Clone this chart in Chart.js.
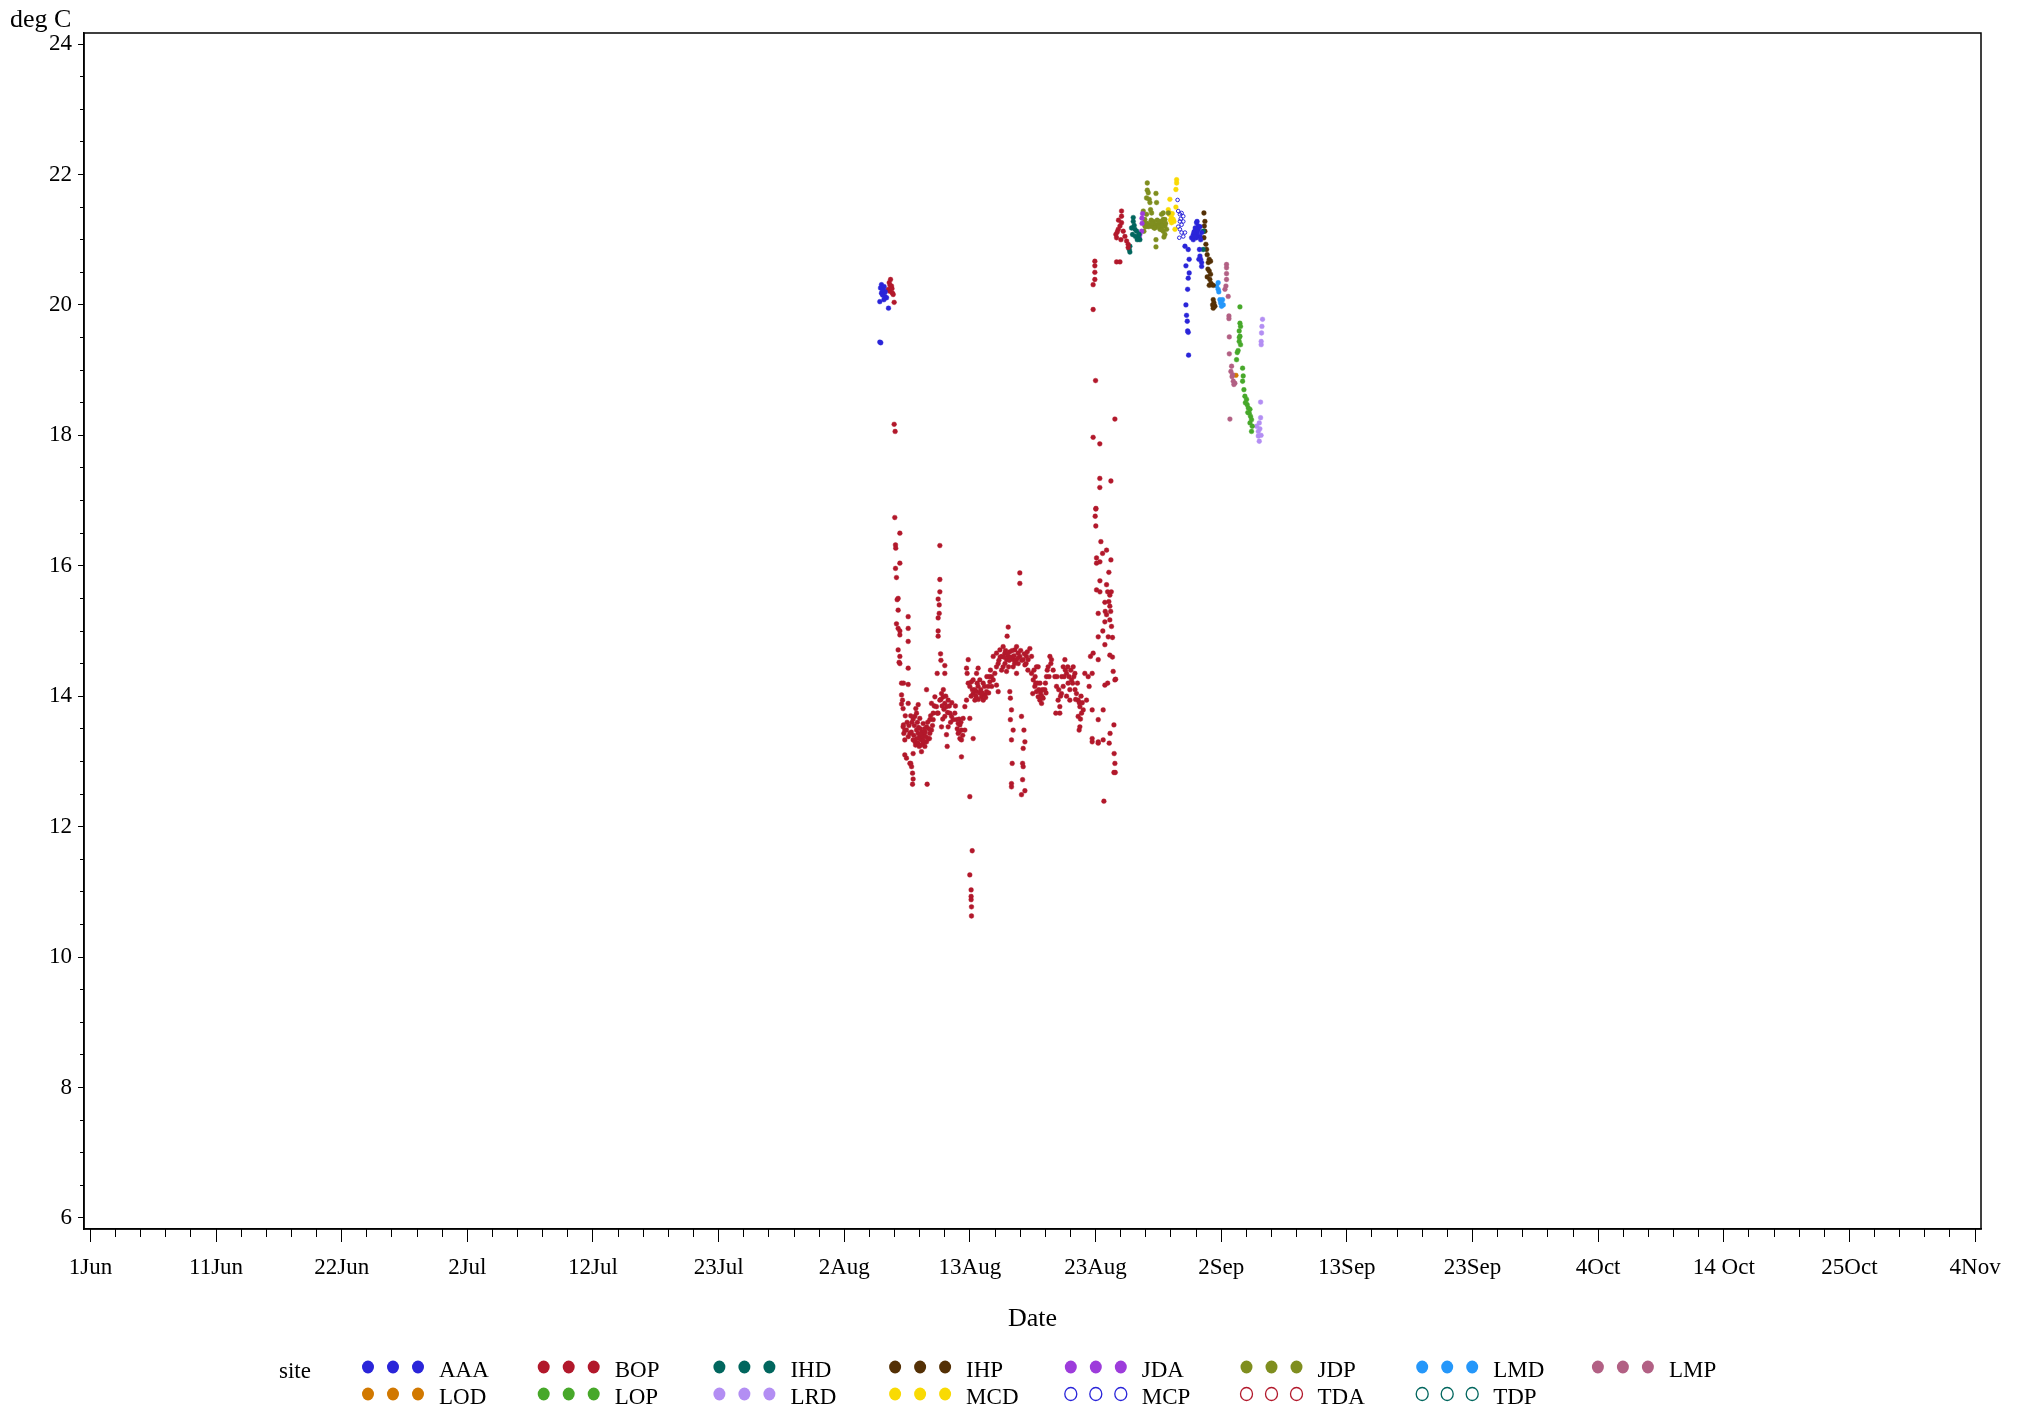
<!DOCTYPE html>
<html>
<head>
<meta charset="utf-8">
<script src="https://cdn.jsdelivr.net/npm/chart.js@4.4.1/dist/chart.umd.min.js"></script>
<style>
html,body{margin:0;padding:0;background:#ffffff;}
canvas{display:block;}
</style>
</head>
<body>
<canvas id="c" width="2024" height="1413"></canvas>
<script>
// ---------- DATA (x = days since 1 Jun, y = deg C) ----------
const xTickLabels = ['1Jun','11Jun','22Jun','2Jul','12Jul','23Jul','2Aug','13Aug','23Aug','2Sep','13Sep','23Sep','4Oct','14 Oct','25Oct','4Nov'];
const yTickValues = [6,8,10,12,14,16,18,20,22,24];

const sites = ['AAA','BOP','IHD','IHP','JDA','JDP','LMD','LMP','LOD','LOP','LRD','MCD','MCP','TDA','TDP'];
const siteColors = ['#2A25D9','#B2182B','#01665E','#543005','#9D3CDB','#7F8E1F','#2597FA','#B26084','#D17800','#47A82A','#B38EF3','#F9DA04','#2A25D9','#B2182B','#01665E'];
const siteHollow = [false,false,false,false,false,false,false,false,false,false,false,false,true,true,true];

const AAA = [[65.48,20.31],[65.4,20.26],[65.62,20.24],[65.48,20.18],[65.76,20.13],[65.9,20.11],[65.68,20.08],[65.34,20.05],[65.55,20.2],[65.7,20.28],[66.06,19.95],[65.34,19.43],[65.42,19.42],[65.58,20.15],[65.8,20.2],
 [90.6,20.9],[90.87,20.85],[90.95,20.70],[90.68,20.6],[90.95,20.49],[90.87,20.41],[90.82,20.24],[90.68,20.0],[90.73,19.84],[90.79,19.75],[90.82,19.6],[90.87,19.58],[90.9,19.23],
 [91.56,21.26],[91.7,21.21],[91.42,21.13],[91.29,21.08],[91.15,21.03],[91.29,21.0],[91.56,21.03],[91.84,21.05],[91.98,21.11],[91.7,21.16],[91.84,21.2],[91.6,21.28],[91.45,21.18],[91.8,20.85],[91.84,20.75],[91.9,20.70],[91.98,20.65],[91.98,20.59],[91.75,20.7],[91.6,21.1],[91.5,21.05],[91.35,21.12],[91.65,21.15],[91.4,21.05],[91.9,21.0]];

const BOP = [[66.23,20.39],[66.12,20.34],[66.31,20.29],[66.04,20.24],[66.17,20.21],[66.39,20.18],[66.45,20.16],[66.53,20.04],[66.2,20.3],[66.35,20.25],[66.53,18.17],[66.61,18.06],
 [66.58,16.74],[67.0,16.50],[66.64,16.32],[66.66,16.27],[67.0,16.04],[66.64,15.96],[66.72,15.82],[66.78,15.48],[66.86,15.50],[66.86,15.32],[66.72,15.11],[66.86,15.04],[67.0,15.0],[67.0,14.94],[66.86,14.71],[67.0,14.61],[66.94,14.52],[67.0,14.50],[67.14,14.20],[67.3,14.20],[67.14,14.02],[67.22,13.94],[67.14,13.88],[67.27,13.81],
 [67.3,13.56],[67.41,13.48],[67.33,13.43],[67.41,13.33],[67.41,13.10],[67.55,13.05],[67.83,12.97],[67.97,12.92],[68.05,12.82],[68.1,12.73],[68.05,12.65],
 [67.69,15.22],[67.69,15.04],[67.69,14.84],[67.69,14.43],[67.69,14.18],[67.69,13.89],
 [67.27,13.53],[67.55,13.48],[67.83,13.43],[68.1,13.33],[68.38,13.48],[68.52,13.43],[68.65,13.38],[68.79,13.33],[68.93,13.28],[69.07,13.23],[69.21,13.30],[69.34,13.35],[69.48,13.43],[69.62,13.48],[68.24,13.69],[68.38,13.74],[68.65,13.66],[68.93,13.58],[69.21,13.53],[69.48,13.64],[69.76,13.74],[69.62,13.89],[69.21,14.10],[68.52,13.87],[68.32,13.81],[68.6,13.23],[68.79,13.15],[68.1,13.12],[67.9,12.97],
 [68.0,13.6],[68.2,13.55],[68.45,13.6],[68.7,13.5],[68.85,13.45],[69.0,13.4],[68.6,13.35],[68.9,13.38],[69.1,13.45],[69.3,13.6],[69.55,13.7],[67.9,13.7],[67.6,13.6],[67.7,13.38],[68.3,13.25],
 [68.15,13.4],[68.25,13.3],[68.4,13.35],[68.5,13.28],[68.55,13.52],[68.7,13.42],[68.75,13.25],[68.95,13.32],[69.05,13.5],[69.15,13.38],[69.4,13.5],[69.45,13.35],[67.45,13.7],[67.75,13.55],[67.95,13.45],[68.1,13.65],[69.7,13.55],[69.85,13.85],
 [69.26,12.65],
 [70.31,16.31],[70.31,15.79],[70.31,15.60],[70.17,15.49],[70.26,15.40],[70.26,15.27],[70.17,15.20],[70.17,15.0],[70.17,14.92],[70.37,14.65],[70.4,14.55],[70.72,14.47],[70.09,14.35],[70.72,14.35],
 [69.9,13.99],[70.03,13.84],[70.17,13.74],[70.31,13.94],[70.45,14.04],[70.59,13.99],[70.72,13.89],[70.86,13.84],[71.0,13.94],[71.14,13.74],[71.28,13.69],[71.41,13.64],[70.72,13.69],[71.0,13.53],[70.45,13.53],[70.86,13.41],[70.92,13.23],[70.09,13.74],[69.76,13.64],
 [70.5,13.85],[70.65,13.8],[70.8,14.0],[70.95,13.75],[71.1,13.85],[71.2,13.6],[70.55,13.65],[70.4,13.95],
 [71.55,13.74],[71.69,13.64],[71.83,13.58],[71.97,13.56],[72.1,13.48],[71.83,13.43],[71.97,13.35],[72.1,13.33],[72.1,13.07],[72.24,13.66],[72.38,13.48],[71.6,13.85],[71.3,13.9],[70.6,14.1],
 [71.75,13.5],[71.9,13.65],[72.05,13.6],[71.9,13.45],[72.2,13.4],
 [72.52,14.43],[72.57,14.35],[72.66,14.20],[72.52,13.94],[72.38,13.84],[72.79,14.15],[72.93,14.22],[73.07,14.04],[73.21,13.94],[73.35,14.07],[73.48,14.15],[73.62,14.25],[73.76,13.99],[73.9,13.94],[74.04,14.02],[74.17,14.07],[74.31,14.15],[74.45,14.22],[74.59,14.30],[74.73,14.25],[74.86,14.35],[75.0,14.17],[75.14,14.07],[75.0,14.45],[73.35,14.35],[73.48,14.43],[73.07,14.25],[72.79,13.66],[73.07,13.35],[72.66,14.56],
 [73.2,14.1],[73.6,14.05],[73.9,14.2],[74.2,14.3],[74.5,14.4],[73.0,14.1],[72.9,14.0],[73.5,13.95],
 [73.3,14.0],[73.4,14.2],[73.7,14.1],[73.8,14.05],[74.0,14.15],[74.1,13.98],[74.35,14.05],[74.6,14.15],[74.4,14.3],
 [72.79,12.46],[72.99,11.63],[72.79,11.26],[72.9,11.03],[72.9,10.93],[72.9,10.88],[72.93,10.77],[72.93,10.63],
 [74.73,14.61],[75.0,14.66],[75.14,14.50],[75.28,14.71],[75.42,14.61],[75.55,14.76],[75.69,14.66],[75.83,14.56],[75.97,14.61],[76.1,14.68],[76.38,14.56],[76.52,14.71],[76.66,14.76],[76.79,14.66],[76.93,14.61],[77.21,14.56],[77.35,14.48],[77.48,14.61],[77.62,14.56],[77.76,14.73],[77.9,14.61],[75.97,15.06],[75.88,14.92],[75.55,14.45],[75.83,14.38],[76.38,14.45],[76.66,14.35],[75.42,14.40],
 [75.2,14.55],[75.7,14.5],[76.0,14.45],[76.2,14.6],[76.5,14.5],[76.8,14.5],[77.0,14.7],[77.3,14.65],[77.6,14.4],[75.3,14.6],
 [75.6,14.6],[75.75,14.7],[75.9,14.65],[76.05,14.55],[76.3,14.7],[76.45,14.62],[76.6,14.55],[76.75,14.58],[77.1,14.55],[77.45,14.5],[77.55,14.68],
 [76.1,14.07],[76.15,13.97],[76.24,13.79],[76.15,13.64],[76.38,13.48],[76.24,13.33],[76.3,12.97],[76.24,12.66],[76.24,12.61],
 [76.93,15.89],[76.93,15.73],
 [77.07,13.69],[77.27,13.48],[77.35,13.30],[77.21,13.20],[77.16,12.97],[77.21,12.92],[77.16,12.72],[77.35,12.55],[77.07,12.49],
 [77.9,14.35],[78.04,14.25],[78.17,14.15],[78.31,14.07],[78.45,13.99],[78.59,13.94],[78.73,13.89],[78.86,13.97],[79.0,14.10],[79.14,14.30],[79.28,14.45],[79.42,14.61],[79.55,14.56],[79.69,14.40],[79.83,14.30],[78.31,14.45],[78.0,14.04],[78.45,14.45],
 [78.1,14.4],[78.6,14.2],[78.8,14.1],[79.1,14.05],[79.35,14.3],[79.5,14.5],[78.4,14.2],
 [78.2,14.3],[78.5,14.1],[78.65,14.05],[78.75,14.0],[79.05,14.2],[79.2,14.4],[78.25,14.2],
 [79.97,14.15],[80.1,13.94],[80.24,13.84],[80.38,14.04],[80.52,14.45],[80.66,14.56],[80.8,14.35],[80.93,14.20],[81.07,14.10],[81.21,14.25],[81.35,14.45],[81.49,14.35],[81.62,14.04],[81.76,13.94],[81.9,13.84],[82.04,13.74],[82.18,13.79],[81.76,13.69],[81.9,13.53],[81.84,13.48],[80.24,13.74],[79.91,13.74],[81.07,13.94],[80.52,14.15],
 [80.0,14.3],[80.4,14.3],[80.7,14.4],[81.0,14.3],[81.3,14.2],[81.5,14.1],[81.7,14.2],[82.0,14.0],[80.8,14.0],
 [80.15,14.1],[80.3,14.0],[80.6,14.3],[80.9,14.45],[81.15,14.4],[81.4,14.3],[81.55,13.95],[81.85,13.9],[82.1,13.9],[81.95,13.65],
 [82.45,13.94],[82.59,14.30],[82.67,14.15],[82.78,14.61],[82.31,14.35],[82.92,13.79],[82.92,13.35],[83.42,13.28],[83.83,13.33],[83.0,14.66],[82.92,14.35],
 [83.22,16.87],[83.17,16.76],[83.22,16.61],[83.64,16.37],[84.11,16.24],[83.78,16.19],[83.28,16.12],[83.28,16.04],[83.56,16.06],[84.47,16.09],[83.56,15.77],[84.11,15.71],[83.28,15.63],[83.56,15.60],[84.38,15.55],[83.97,15.44],[84.38,15.38],[83.42,15.27],[84.11,15.25],[83.97,15.14],[84.38,15.17],[84.52,15.07],[84.25,14.91],[83.42,14.91],[83.97,14.79],[83.42,14.56],[84.38,14.63],[84.66,14.38],[84.8,14.25],[83.97,14.17],[83.83,13.79],[83.42,13.64],[84.74,13.12],[84.8,12.97],[84.72,12.83],[84.33,13.28],[83.89,12.39],
 [84.86,14.26],[84.72,13.56],[84.4,13.43],[82.92,13.30],[83.42,13.30],[84.83,12.83],[84.2,14.2],[84.6,14.6],[83.8,15.0],[84.0,15.3],
 [84.3,15.45],[84.45,15.3],[84.2,15.6],[84.5,15.6],[84.3,15.9],[84.6,14.9],
 [83.14,20.67],[83.14,20.6],[83.14,20.5],[83.14,20.39],[83.0,20.31],[83.0,19.93],[83.2,18.84],[83.0,17.97],[83.55,17.87],[83.55,17.34],[84.47,17.30],[83.55,17.2],[83.23,16.88],[84.8,18.25],
 [85.35,21.44],[85.35,21.36],[85.35,21.26],[85.22,21.21],[85.08,21.16],[84.88,21.08],[84.94,21.03],[85.49,21.13],[85.63,21.05],[85.77,20.98],[85.9,20.93],[85.9,20.88],[84.94,20.66],[85.22,20.66],[85.1,21.3],[85.0,21.12],[85.3,21.0]];

const IHD = [[86.32,21.34],[86.32,21.28],[86.18,21.18],[86.46,21.16],[86.6,21.13],[86.73,21.03],[86.87,21.0],[86.65,21.0],[86.26,21.08],[86.04,20.9],[85.99,20.85],[86.04,20.81],[86.5,21.05],[86.4,21.22],[86.8,21.08],[92.11,20.85],[92.11,21.13]];

const IHP = [[92.17,21.41],[92.25,21.28],[92.2,21.21],[92.25,21.13],[92.17,21.03],[92.33,20.93],[92.39,20.85],[92.44,20.77],[92.61,20.70],[92.72,20.67],[92.53,20.65],[92.61,20.52],[92.72,20.47],[92.44,20.43],[92.66,20.39],[92.8,20.31],[92.94,20.30],[92.61,20.30],[92.94,20.08],[93.0,20.03],[93.08,19.98],[92.94,19.95],[92.89,20.0],[92.75,20.33],[92.5,20.55]];

const JDA = [[87.09,21.40],[87.04,21.33],[87.01,21.13],[86.87,21.08],[86.82,21.04],[87.05,21.25]];

const JDP = [[87.48,21.87],[87.48,21.76],[87.56,21.72],[87.42,21.64],[87.64,21.62],[87.7,21.57],[88.2,21.71],[88.25,21.57],[87.75,21.46],[87.84,21.41],[87.15,21.44],[87.42,21.39],[87.28,21.31],[87.23,21.26],[87.28,21.21],[87.2,21.13],[87.42,21.21],[87.97,21.28],[88.11,21.23],[88.25,21.21],[88.53,21.18],[88.66,21.26],[88.8,21.31],[88.94,21.21],[89.08,21.16],[88.66,21.39],[88.8,21.41],[88.94,21.31],[88.53,21.28],[88.39,21.23],[88.11,21.18],[88.53,21.16],[88.8,21.13],[88.94,21.08],[88.86,21.04],[88.2,21.0],[88.2,20.89],[89.22,21.41],[87.6,21.2],[87.9,21.2],[88.3,21.3],[88.6,21.2],[88.0,21.25],[87.8,21.3],
 [87.35,21.2],[87.5,21.25],[87.7,21.22],[88.05,21.18],[88.45,21.2],[88.7,21.15],[88.75,21.22],[88.4,21.28],[87.85,21.25],[89.0,21.25]];

const LMD = [[93.35,20.34],[93.22,20.29],[93.35,20.24],[93.49,20.08],[93.55,20.03],[93.63,19.98],[93.77,20.0],[93.71,20.08],[93.4,20.2],[93.6,20.05]];

const LMP = [[94.04,20.62],[94.04,20.57],[94.04,20.48],[94.04,20.39],[93.99,20.29],[93.91,20.24],[94.18,20.13],[94.24,19.83],[94.24,19.79],[94.27,19.51],[94.27,19.25],[94.46,19.06],[94.4,18.98],[94.54,18.93],[94.6,18.83],[94.73,18.8],[94.65,18.78],[94.32,18.25],[94.5,18.9]];

const LOD = [[94.82,18.92]];

const LOP = [[95.15,19.97],[95.15,19.72],[95.2,19.67],[95.09,19.6],[95.15,19.52],[95.09,19.44],[95.2,19.39],[94.93,19.27],[94.87,19.16],[95.37,19.03],[95.42,18.91],[95.37,18.83],[95.48,18.70],[95.56,18.6],[95.7,18.55],[95.75,18.47],[95.84,18.42],[95.98,18.4],[95.92,18.34],[96.03,18.29],[96.11,18.24],[95.98,18.19],[96.17,18.14],[96.11,18.06],[95.6,18.5],[95.8,18.35],[95.1,19.5],[95.0,19.3]];

const LRD = [[97.02,19.78],[96.97,19.67],[96.94,19.57],[96.91,19.44],[96.91,19.39],[96.86,18.51],[96.86,18.27],[96.75,18.19],[96.53,18.14],[96.67,18.06],[96.67,17.99],[96.75,17.91],[96.8,18.1],[96.9,18.0]];

const MCD = [[89.91,21.92],[89.91,21.87],[89.85,21.77],[89.35,21.62],[89.85,21.5],[89.22,21.46],[89.35,21.41],[89.49,21.34],[89.63,21.31],[89.49,21.26],[89.69,21.28],[89.3,21.39],[89.77,21.16],[89.4,21.3],[89.55,21.4]];

const MCP = [[89.99,21.61],[90.04,21.44],[90.18,21.39],[90.32,21.41],[90.46,21.36],[90.18,21.28],[90.32,21.23],[90.46,21.28],[90.18,21.16],[90.32,21.11],[90.13,21.03],[90.6,21.11],[90.46,21.05],[90.04,21.2],[90.25,21.32]];

const TDA = [];
const TDP = [];

const siteData = {AAA,BOP,IHD,IHP,JDA,JDP,LMD,LMP,LOD,LOP,LRD,MCD,MCP,TDA,TDP};

// ---------- axis settings ----------
const X_MIN = -0.53, X_MAX = 156.49, X_STEP = 10.4, X_MINOR_STEP = 2.08;
const Y_MIN = 5.83, Y_MAX = 24.17, Y_MINOR_STEP = 0.5;
const FONT = "'Liberation Serif', 'Times New Roman', serif";

const xMajor = xTickLabels.map((_, k) => +(k * X_STEP).toFixed(4));
const xMinor = [];
for (let k = 0; k <= 75; k++) xMinor.push(+(k * X_MINOR_STEP).toFixed(4));
const yMinor = [];
for (let v = 6; v <= 24.001; v += Y_MINOR_STEP) yMinor.push(+v.toFixed(2));

const datasets = sites.map((s, i) => ({
  label: s,
  data: siteData[s].map(([x, y]) => ({x, y})),
  backgroundColor: siteHollow[i] ? 'rgba(255,255,255,0)' : siteColors[i],
  borderColor: siteColors[i],
  pointRadius: siteHollow[i] ? 1.8 : 2.4,
  pointBorderWidth: siteHollow[i] ? 1 : 0.4,
  pointHoverRadius: 2,
  showLine: false
}));

const extras = {
  id: 'extras',
  afterDraw(chart) {
    const {ctx, chartArea: a} = chart;
    ctx.save();
    ctx.strokeStyle = '#000';
    ctx.lineWidth = 1.5;
    ctx.strokeRect(a.left, a.top, a.right - a.left, a.bottom - a.top);
    ctx.fillStyle = '#000';
    ctx.font = '26px ' + FONT;
    ctx.textAlign = 'left';
    ctx.textBaseline = 'alphabetic';
    ctx.fillText('deg C', 10, 27);
    // legend
    ctx.font = '23px ' + FONT;
    ctx.textBaseline = 'middle';
    ctx.fillText('site', 279, 1372);
    sites.forEach((s, i) => {
      const row = i < 8 ? 0 : 1;
      const col = i % 8;
      const cx = 368 + col * 175.7;
      const cy = row === 0 ? 1367 : 1394;
      for (let m = 0; m < 3; m++) {
        ctx.beginPath();
        ctx.ellipse(cx + m * 25, cy, 6, 6.5, 0, 0, Math.PI * 2);
        if (siteHollow[i]) {
          ctx.strokeStyle = siteColors[i];
          ctx.lineWidth = 1.3;
          ctx.stroke();
        } else {
          ctx.fillStyle = siteColors[i];
          ctx.fill();
        }
      }
      ctx.fillStyle = '#000';
      ctx.fillText(s, cx + 71, cy + 4);
    });
    ctx.restore();
  }
};

new Chart(document.getElementById('c'), {
  type: 'scatter',
  data: {datasets},
  plugins: [extras],
  options: {
    responsive: false,
    animation: false,
    devicePixelRatio: 1,
    events: [],
    layout: {padding: {left: 0, top: 33, right: 43, bottom: 78}},
    plugins: {legend: {display: false}, tooltip: {enabled: false}},
    scales: {
      x: {
        type: 'linear', position: 'bottom', min: X_MIN, max: X_MAX,
        afterBuildTicks: s => { s.ticks = xMajor.map(v => ({value: v})); },
        afterFit: s => { s.height = 106; },
        ticks: {autoSkip: false, maxRotation: 0, padding: 12, color: '#000',
                font: {family: FONT, size: 23},
                callback: (v, i) => xTickLabels[i]},
        grid: {drawOnChartArea: false, drawTicks: true, tickLength: 13, tickColor: '#000', tickWidth: 1},
        border: {display: true, color: '#000', width: 1.5},
        title: {display: true, text: 'Date', color: '#000', font: {family: FONT, size: 26}, padding: 0}
      },
      xMinor: {
        type: 'linear', axis: 'x', position: {y: Y_MIN}, min: X_MIN, max: X_MAX,
        afterBuildTicks: s => { s.ticks = xMinor.map(v => ({value: v})); },
        ticks: {display: false},
        grid: {drawOnChartArea: false, drawTicks: true, tickLength: 8, tickColor: '#000', tickWidth: 1},
        border: {display: false}
      },
      y: {
        type: 'linear', position: 'left', min: Y_MIN, max: Y_MAX,
        afterBuildTicks: s => { s.ticks = yTickValues.map(v => ({value: v})); },
        afterFit: s => { s.width = 84; },
        ticks: {padding: 6, color: '#000', font: {family: FONT, size: 23}, callback: v => String(v)},
        grid: {drawOnChartArea: false, drawTicks: true, tickLength: 6, tickColor: '#000', tickWidth: 1},
        border: {display: true, color: '#000', width: 1.5}
      },
      yMinor: {
        type: 'linear', axis: 'y', position: {x: X_MIN}, min: Y_MIN, max: Y_MAX,
        afterBuildTicks: s => { s.ticks = yMinor.map(v => ({value: v})); },
        ticks: {display: false},
        grid: {drawOnChartArea: false, drawTicks: true, tickLength: 4, tickColor: '#000', tickWidth: 1},
        border: {display: false}
      }
    }
  }
});
</script>
</body>
</html>
